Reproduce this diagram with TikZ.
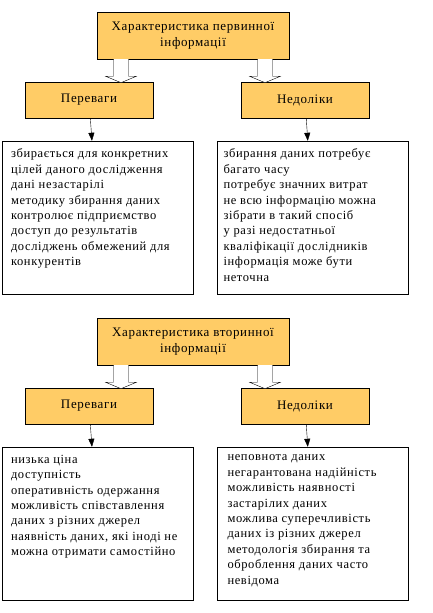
\documentclass[tikz,border=0pt]{standalone}
\usepackage{fontspec}
\setmainfont[LetterSpace=5]{Liberation Serif}
\usetikzlibrary{positioning,calc,arrows.meta}
\definecolor{headfill}{HTML}{FFCC66}

\tikzset{
  head/.style={draw, fill=headfill, minimum width=192pt, minimum height=47pt, inner sep=0pt, align=center, font=\fontsize{13}{16.5}\selectfont},
  side/.style={draw, fill=headfill, minimum width=128pt, minimum height=36pt, inner sep=0pt, font=\fontsize{13}{14.5}\selectfont},
  listbox/.style={draw, minimum width=191pt, minimum height=153pt, inner sep=0pt},
  listtext/.style={anchor=north west, align=left, inner sep=0pt, font=\fontsize{12.5}{15.4}\selectfont},
  down/.style={-{Triangle[width=6pt,length=8pt]}},
  hollow/.style={draw, fill=white, line join=miter},
}
% hollow block arrow hanging under a point
\newcommand{\blockarrow}[1]{\path[hollow] ($#1+(-7.5,0)$) -- ++(0,17) -- ++(-8,0) -- ++(15.5,6.5) -- ++(15.5,-6.5) -- ++(-8,0) -- ++(0,-17);}

\begin{document}
\begin{tikzpicture}[x=1pt, y=-1pt, >=stealth]
  \useasboundingbox (0,0) rectangle (433,613);

  % primary information
  \node[head] (t1) at (193,35.5) {Характеристика первинної\\інформації};
  \node[side] (p1) at (89,100) {Переваги};
  \node[side] (n1) at (305,100) {Недоліки};
  \node[listbox] (pb1) at (97.5,217.5) {};
  \node[listbox] (nb1) at (313,217.5) {};
  \node[listtext] (pl1) at ($(pb1.north west)+(9,8)$) {збирається для конкретних\\цілей даного дослідження\\дані незастарілі\\методику збирання даних\\контролює підприємство\\доступ до результатів\\досліджень обмежений для\\конкурентів};
  \node[listtext] (nl1) at ($(nb1.north west)+(6,8)$) {збирання даних потребує\\багато часу\\потребує значних витрат\\не всю інформацію можна\\зібрати в такий спосіб\\у разі недостатньої\\кваліфікації дослідників\\інформація може бути\\неточна};
  \blockarrow{(t1.south)+(-72,0)}
  \blockarrow{(t1.south)+(72,0)}
  \draw[down] (p1) -- (pb1);
  \draw[down] (n1) -- (nb1);

  % secondary information
  \node[head] (t2) at (193,341.5) {Характеристика вторинної\\інформації};
  \node[side] (p2) at (89,406) {Переваги};
  \node[side] (n2) at (305,406) {Недоліки};
  \node[listbox] (pb2) at (97.5,523.5) {};
  \node[listbox] (nb2) at (313,523.5) {};
  \node[listtext] (pl2) at ($(pb2.north west)+(9,8)$) {низька ціна\\доступність\\оперативність одержання\\можливість співставлення\\даних з різних джерел\\наявність даних, які іноді не\\можна отримати самостійно};
  \node[listtext] (nl2) at ($(nb2.north west)+(10,8)$) {неповнота даних\\негарантована надійність\\можливість наявності\\застарілих даних\\можлива суперечливість\\даних із різних джерел\\методологія збирання та\\оброблення даних часто\\невідома};
  \blockarrow{(t2.south)+(-72,0)}
  \blockarrow{(t2.south)+(72,0)}
  \draw[down] (p2) -- (pb2);
  \draw[down] (n2) -- (nb2);
\end{tikzpicture}
\end{document}
